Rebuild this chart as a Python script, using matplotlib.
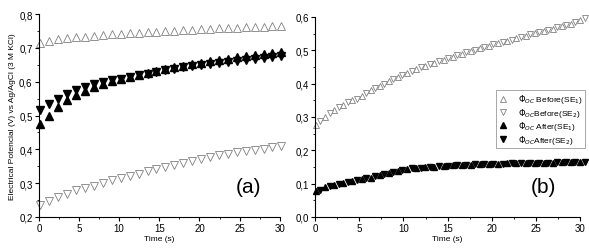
import numpy as np
import matplotlib.pyplot as plt
import matplotlib as mpl
from matplotlib.ticker import MultipleLocator, FuncFormatter

mpl.rcParams['font.family'] = ['Liberation Sans', 'DejaVu Sans']
mpl.rcParams['xtick.direction'] = 'out'
mpl.rcParams['ytick.direction'] = 'out'
mpl.rcParams['xtick.major.size'] = 3
mpl.rcParams['ytick.major.size'] = 3
mpl.rcParams['xtick.minor.size'] = 1.5
mpl.rcParams['ytick.minor.size'] = 1.5

# panel (a) data
t_a = np.linspace(0.2, 30.2, 28)
a_before1 = [0.713, 0.720, 0.725, 0.728, 0.731, 0.733, 0.736, 0.738, 0.740, 0.742,
             0.744, 0.745, 0.747, 0.748, 0.750, 0.751, 0.753, 0.754, 0.755, 0.757,
             0.758, 0.759, 0.760, 0.761, 0.762, 0.763, 0.764, 0.765]
a_before2 = [0.235, 0.248, 0.258, 0.268, 0.280, 0.287, 0.293, 0.300, 0.308, 0.315,
             0.322, 0.328, 0.335, 0.342, 0.348, 0.355, 0.360, 0.366, 0.372, 0.377,
             0.382, 0.387, 0.391, 0.395, 0.398, 0.402, 0.406, 0.410]
a_after1 = [0.475, 0.500, 0.525, 0.545, 0.560, 0.572, 0.583, 0.593, 0.602, 0.608,
            0.615, 0.620, 0.626, 0.631, 0.638, 0.642, 0.647, 0.651, 0.656, 0.661,
            0.665, 0.668, 0.672, 0.676, 0.679, 0.683, 0.686, 0.689]
a_after2 = [0.515, 0.535, 0.550, 0.563, 0.575, 0.584, 0.592, 0.598, 0.604, 0.609,
            0.614, 0.619, 0.624, 0.629, 0.635, 0.639, 0.643, 0.647, 0.650, 0.653,
            0.656, 0.659, 0.662, 0.665, 0.668, 0.671, 0.673, 0.676]

# panel (b) data
t_b1 = np.linspace(0.1, 30.0, 30)
t_b2 = t_b1 + 0.5
b_before1 = [0.275, 0.300, 0.322, 0.337, 0.350, 0.362, 0.380, 0.394, 0.407, 0.420,
             0.432, 0.444, 0.454, 0.463, 0.472, 0.481, 0.490, 0.498, 0.506, 0.514,
             0.521, 0.528, 0.536, 0.544, 0.551, 0.558, 0.565, 0.572, 0.579, 0.592]
b_before2 = [0.288, 0.312, 0.330, 0.344, 0.355, 0.371, 0.387, 0.400, 0.414, 0.426,
             0.438, 0.449, 0.459, 0.468, 0.477, 0.486, 0.494, 0.502, 0.510, 0.518,
             0.525, 0.532, 0.540, 0.548, 0.555, 0.562, 0.569, 0.576, 0.584, 0.596]
b_after1 = [0.078, 0.090, 0.097, 0.102, 0.107, 0.113, 0.118, 0.126, 0.133, 0.139,
            0.144, 0.147, 0.149, 0.151, 0.153, 0.155, 0.156, 0.157, 0.158, 0.159,
            0.160, 0.161, 0.161, 0.162, 0.162, 0.163, 0.163, 0.164, 0.164, 0.165]
b_after2 = [0.082, 0.094, 0.100, 0.105, 0.110, 0.116, 0.122, 0.130, 0.136, 0.142,
            0.146, 0.148, 0.150, 0.152, 0.154, 0.156, 0.157, 0.158, 0.159, 0.160,
            0.160, 0.161, 0.162, 0.162, 0.163, 0.163, 0.164, 0.164, 0.165, 0.165]

gray = '#808080'
comma = FuncFormatter(lambda v, p: ('%.1f' % v).replace('.', ','))

fig = plt.figure(figsize=(5.89, 2.51), dpi=100)
ax1 = fig.add_axes([0.066, 0.1315, 0.409, 0.8085])
ax2 = fig.add_axes([0.535, 0.1315, 0.450, 0.797])

ms_a = 5.5
ax1.plot(t_a, a_before1, ls='', marker='^', ms=ms_a, mfc='white', mec=gray, mew=0.6, clip_on=False)
ax1.plot(t_a, a_before2, ls='', marker='v', ms=ms_a, mfc='white', mec=gray, mew=0.6, clip_on=False)
ax1.plot(t_a, a_after1, ls='', marker='^', ms=ms_a, color='black', clip_on=False)
ax1.plot(t_a, a_after2, ls='', marker='v', ms=ms_a, color='black', clip_on=False)

ms_b = 4
h1, = ax2.plot(t_b1, b_before1, ls='', marker='^', ms=ms_b, mfc='white', mec=gray, mew=0.6, clip_on=False)
h2, = ax2.plot(t_b2, b_before2, ls='', marker='v', ms=ms_b, mfc='white', mec=gray, mew=0.6, clip_on=False)
h3, = ax2.plot(t_b1, b_after1, ls='', marker='^', ms=ms_b, color='black', clip_on=False)
h4, = ax2.plot(t_b2, b_after2, ls='', marker='v', ms=ms_b, color='black', clip_on=False)

for ax in (ax1, ax2):
    ax.spines['top'].set_visible(False)
    ax.spines['right'].set_visible(False)
    ax.set_xlim(0, 30)
    ax.xaxis.set_major_locator(MultipleLocator(5))
    ax.xaxis.set_minor_locator(MultipleLocator(2.5))
    ax.yaxis.set_minor_locator(MultipleLocator(0.05))
    ax.yaxis.set_major_formatter(comma)
    ax.tick_params(labelsize=7, pad=1.5)
    ax.set_xlabel('Time (s)', fontsize=6, labelpad=1)

ax1.set_ylim(0.2, 0.8)
ax1.yaxis.set_major_locator(MultipleLocator(0.1))
ax1.set_ylabel('Electrical Potencial (V) vs Ag/AgCl (3 M KCl)', fontsize=6, labelpad=2)
ax2.set_ylim(0.0, 0.6)
ax2.yaxis.set_major_locator(MultipleLocator(0.1))

ax1.text(0.87, 0.15, '(a)', transform=ax1.transAxes, fontsize=15, ha='center', va='center')
ax2.text(0.86, 0.15, '(b)', transform=ax2.transAxes, fontsize=15, ha='center', va='center')

labels = [r'$\Phi_{OC}$ Before(SE$_1$)', r'$\Phi_{OC}$Before(SE$_2$)',
          r'$\Phi_{OC}$ After(SE$_1$)', r'$\Phi_{OC}$After(SE$_2$)']
leg = ax2.legend([h1, h2, h3, h4], labels, loc='upper right', bbox_to_anchor=(1.02, 0.635),
                 fontsize=6, frameon=True, fancybox=False, edgecolor=gray,
                 handletextpad=1.1, borderpad=0.3, labelspacing=0.05, handlelength=1.3,
                 borderaxespad=0)
leg.get_frame().set_linewidth(0.6)

fig.savefig('out.png', dpi=100)
